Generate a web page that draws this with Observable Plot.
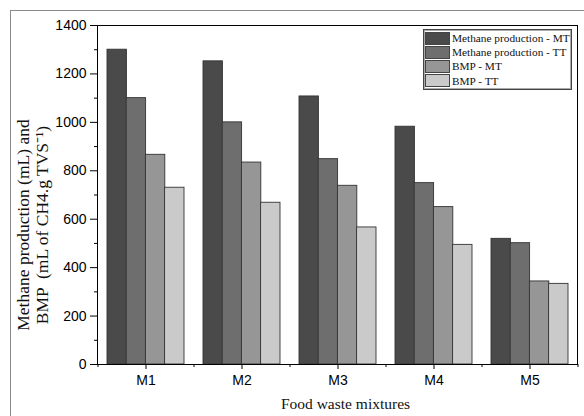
<!DOCTYPE html>
<html><head><meta charset="utf-8">
<script src="https://cdn.jsdelivr.net/npm/d3@7"></script>
<script src="https://cdn.jsdelivr.net/npm/@observablehq/plot@0.6"></script>
<style>
body{margin:0;background:#fff;}
#wrap{position:relative;width:584px;height:416px;overflow:hidden;background:#fff;}
#outer{position:absolute;left:10px;top:10px;width:620px;height:440px;border-left:1.5px solid #8a8a8a;border-top:1.5px solid #8a8a8a;pointer-events:none;}
#chart{position:absolute;left:0;top:0;}
#legend{position:absolute;left:423px;top:29px;width:146px;border:1px solid #444;box-shadow:inset 0 0 0 1px #aaa;background:#fff;padding:1px 0 1px 1px;font-family:"Liberation Serif",serif;font-size:11.3px;color:#111;white-space:nowrap;}
#legend .row{display:flex;align-items:center;height:14.2px;}
#legend .sw{width:25px;height:13px;border:1px solid #444;box-sizing:border-box;margin-right:2px;flex:none;}
</style></head>
<body><div id="wrap"><div id="chart"></div><div id="outer"></div><div id="legend"></div></div>
<script>
const mixtures = ["M1","M2","M3","M4","M5"];
const seriesNames = ["Methane production - MT","Methane production - TT","BMP - MT","BMP - TT"];
const methaneMT = [1300,1252,1107,982,519];
const methaneTT = [1100,1000,848,749,501];
const bmpMT = [866,834,738,650,343];
const bmpTT = [730,668,566,494,333];
const seriesValues = [methaneMT, methaneTT, bmpMT, bmpTT];
const colors = ["#4a4a4a","#6e6e6e","#969696","#cacaca"];
const yMajor = [0,200,400,600,800,1000,1200,1400];
const yMinor = [100,300,500,700,900,1100,1300];
const yLabel1 = "Methane production (mL) and";
const yLabel2 = "BMP  (mL of CH4.g TVS\u207B\u00B9)";
const xLabel = "Food waste mixtures";

const W = 584, H = 416, mL = 97, mR = 7, mT = 25, mB = 52;
const step = (W - mL - mR) / (mixtures.length);
const band = step * 0.8;
const sub = band / seriesNames.length;

const sans = "'Liberation Sans', Arial, sans-serif";
const serif = "'Liberation Serif', 'Times New Roman', serif";

const marks = [];
seriesValues.forEach((vals, i) => {
  marks.push(Plot.barY(mixtures, {
    x: d => d,
    y: (d, j) => vals[j],
    fill: colors[i],
    stroke: "#333",
    strokeWidth: 0.9,
    insetLeft: i * sub,
    insetRight: (seriesNames.length - 1 - i) * sub
  }));
});
marks.push(
  Plot.frame({stroke: "#000", strokeWidth: 1}),
  Plot.axisY({ticks: yMajor, tickSize: 7, tickPadding: 4, tickFormat: d3.format("d"), fontSize: 14, fontFamily: sans, label: null, color: "#000"}),
  Plot.axisY({ticks: yMinor, tickSize: 3, tickFormat: () => "", label: null}),
  Plot.axisX({tickSize: 5, tickPadding: 6, fontSize: 14, fontFamily: sans, label: null, color: "#000"}),
  Plot.axisX({ticks: mixtures, tickSize: 3, dx: -step / 2, tickFormat: () => "", label: null}),
  Plot.axisX({ticks: [mixtures[mixtures.length - 1]], tickSize: 3, dx: step / 2, tickFormat: () => "", label: null}),
  Plot.text([yLabel1], {text: d => d, frameAnchor: "left", textAnchor: "middle", rotate: -90, dx: -74, dy: 30, fontSize: 17.5, fontFamily: serif, fill: "#111"}),
  Plot.text([yLabel2], {text: d => d, frameAnchor: "left", textAnchor: "middle", rotate: -90, dx: -55, dy: 30, fontSize: 17.5, fontFamily: serif, fill: "#111"}),
  Plot.text([xLabel], {text: d => d, frameAnchor: "bottom", dy: 44, dx: 8, fontSize: 15.5, fontFamily: serif, fill: "#111"})
);

const chart = Plot.plot({
  width: W, height: H,
  marginLeft: mL, marginRight: mR, marginTop: mT, marginBottom: mB,
  style: {background: "transparent", color: "#000"},
  x: {domain: mixtures, paddingInner: 0.2, paddingOuter: 0.1, axis: null},
  y: {domain: [0, 1400], axis: null},
  marks
});
document.getElementById("chart").appendChild(chart);

const leg = document.getElementById("legend");
seriesNames.forEach((n, i) => {
  const r = document.createElement("div");
  r.className = "row";
  const s = document.createElement("div");
  s.className = "sw";
  s.style.background = colors[i];
  const t = document.createElement("span");
  t.textContent = n;
  r.appendChild(s); r.appendChild(t);
  leg.appendChild(r);
});
</script></body></html>
